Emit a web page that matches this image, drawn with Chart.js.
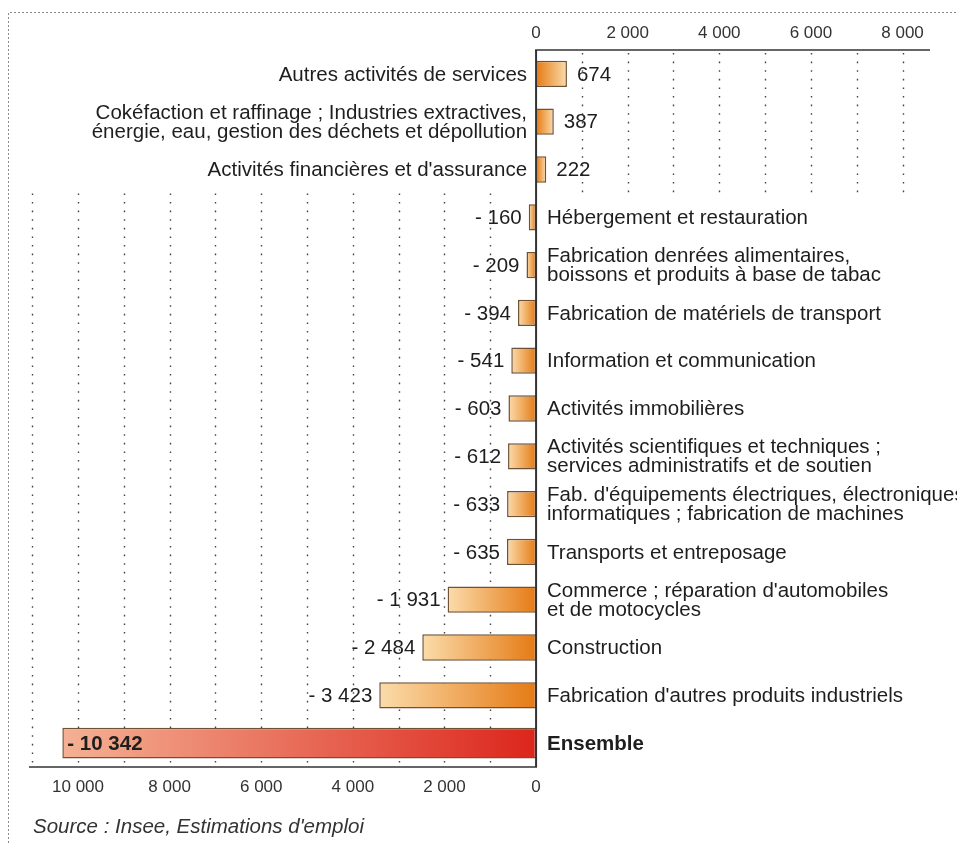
<!DOCTYPE html>
<html lang="fr">
<head>
<meta charset="utf-8">
<title>Emploi par secteur</title>
<script src="https://cdn.jsdelivr.net/npm/chart.js@4.4.1/dist/chart.umd.min.js"></script>
<style>
  html, body { margin: 0; padding: 0; background: #fff; }
  #wrap { position: relative; width: 957px; height: 843px; }
</style>
</head>
<body>
<div id="wrap"><canvas id="chart" width="957" height="843"></canvas></div>
<script>
// Variation de l'emploi par secteur (Insee, estimations d'emploi)
const categories = [
  ['Autres activités de services'],
  ['Cokéfaction et raffinage ; Industries extractives,', 'énergie, eau, gestion des déchets et dépollution'],
  ['Activités financières et d\'assurance'],
  ['Hébergement et restauration'],
  ['Fabrication denrées alimentaires,', 'boissons et produits à base de tabac'],
  ['Fabrication de matériels de transport'],
  ['Information et communication'],
  ['Activités immobilières'],
  ['Activités scientifiques et techniques ;', 'services administratifs et de soutien'],
  ['Fab. d\'équipements électriques, électroniques,', 'informatiques ; fabrication de machines'],
  ['Transports et entreposage'],
  ['Commerce ; réparation d\'automobiles', 'et de motocycles'],
  ['Construction'],
  ['Fabrication d\'autres produits industriels'],
  ['Ensemble']
];
const sectorValues = [674, 387, 222, -160, -209, -394, -541, -603, -612, -633, -635, -1931, -2484, -3423, null];
const totalValues = [null, null, null, null, null, null, null, null, null, null, null, null, null, null, -10342];
const topTicks = [0, 2000, 4000, 6000, 8000];
const bottomTicks = [-10000, -8000, -6000, -4000, -2000, 0];
const posGrid = [1000, 2000, 3000, 4000, 5000, 6000, 7000, 8000];
const negGrid = [-1000, -2000, -3000, -4000, -5000, -6000, -7000, -8000, -9000, -10000, -11000];

const X_MIN = -11070, X_MAX = 8600;
const FONT = '"Liberation Sans", Arial, Helvetica, sans-serif';
const TXT = '#1e1e1e';

function fmt(v) {
  const s = Math.abs(v).toString().replace(/\B(?=(\d{3})+(?!\d))/g, ' ');
  return v < 0 ? '- ' + s : s;
}

function barFill(dark, light) {
  return function (ctx) {
    const chart = ctx.chart;
    if (!chart.chartArea || ctx.raw == null) return dark;
    const xs = chart.scales.x;
    const x0 = xs.getPixelForValue(0), x1 = xs.getPixelForValue(ctx.raw);
    const g = chart.ctx.createLinearGradient(x0, 0, x1, 0);
    g.addColorStop(0, dark);
    g.addColorStop(1, light);
    return g;
  };
}

// fond : cadre pointillé, grilles, axes
const backdrop = {
  id: 'backdrop',
  beforeDatasetsDraw(chart) {
    const { ctx, chartArea: a, scales: { x, y } } = chart;
    ctx.save();
    // cadre
    ctx.strokeStyle = '#8a8a8a';
    ctx.lineWidth = 1;
    ctx.setLineDash([2, 2]);
    ctx.beginPath();
    ctx.moveTo(8.5, 843); ctx.lineTo(8.5, 12.5); ctx.lineTo(957, 12.5);
    ctx.stroke();
    // grilles
    const split = y.getPixelForValue(2.5);
    ctx.strokeStyle = '#444';
    ctx.lineWidth = 1.4;
    ctx.setLineDash([1.6, 7]);
    posGrid.forEach(v => {
      const px = Math.round(x.getPixelForValue(v)) + 0.5;
      ctx.beginPath(); ctx.moveTo(px, a.top + 3); ctx.lineTo(px, split); ctx.stroke();
    });
    negGrid.forEach(v => {
      const px = Math.round(x.getPixelForValue(v)) + 0.5;
      ctx.beginPath(); ctx.moveTo(px, split); ctx.lineTo(px, a.bottom - 2); ctx.stroke();
    });
    ctx.restore();
  },
  afterDatasetsDraw(chart) {
    const { ctx, chartArea: a, scales: { x } } = chart;
    const x0 = x.getPixelForValue(0);
    ctx.save();
    ctx.setLineDash([]);
    ctx.strokeStyle = '#666';
    ctx.lineWidth = 2;
    ctx.beginPath(); ctx.moveTo(x0 - 1, a.top); ctx.lineTo(a.right, a.top); ctx.stroke();
    ctx.beginPath(); ctx.moveTo(a.left, a.bottom); ctx.lineTo(x0 + 1, a.bottom); ctx.stroke();
    ctx.strokeStyle = '#333';
    ctx.beginPath(); ctx.moveTo(x0, a.top); ctx.lineTo(x0, a.bottom); ctx.stroke();
    ctx.restore();
  }
};

// étiquettes : secteurs et valeurs
const labels = {
  id: 'labels',
  afterDraw(chart) {
    const { ctx, scales: { x } } = chart;
    const x0 = x.getPixelForValue(0);
    ctx.save();
    ctx.fillStyle = TXT;
    ctx.textBaseline = 'middle';
    const lh = 19;
    chart.data.datasets.forEach((ds, di) => {
      const meta = chart.getDatasetMeta(di);
      meta.data.forEach((bar, i) => {
        const v = ds.data[i];
        if (v == null) return;
        const isTotal = di === 1;
        const lines = categories[i];
        const cy = bar.y;
        ctx.font = (isTotal ? 'bold ' : '') + '20.5px ' + FONT;
        // catégorie
        ctx.textAlign = v >= 0 ? 'right' : 'left';
        const cx = v >= 0 ? x0 - 9 : x0 + 11;
        lines.forEach((t, k) => {
          ctx.fillText(t, cx, cy + (k - (lines.length - 1) / 2) * lh + 1);
        });
        // valeur
        if (isTotal) {
          ctx.textAlign = 'left';
          ctx.fillText(fmt(v), bar.x + 5, cy + 1);
        } else if (v >= 0) {
          ctx.textAlign = 'left';
          ctx.fillText(fmt(v), bar.x + 10, cy + 1);
        } else {
          ctx.textAlign = 'right';
          ctx.fillText(fmt(v), bar.x - 7, cy + 1);
        }
      });
    });
    // source
    ctx.font = 'italic 20.5px ' + FONT;
    ctx.textAlign = 'left';
    ctx.fillStyle = '#333';
    ctx.fillText('Source : Insee, Estimations d\'emploi', 33, 827);
    ctx.restore();
  }
};

new Chart(document.getElementById('chart'), {
  type: 'bar',
  data: {
    labels: categories.map(c => c.join(' ')),
    datasets: [
      {
        data: sectorValues,
        backgroundColor: barFill('#e57a14', '#fbdcab'),
        borderColor: '#6e5238',
        borderWidth: 1.5,
        borderSkipped: false,
        barPercentage: 0.55,
        categoryPercentage: 1,
        grouped: false
      },
      {
        data: totalValues,
        backgroundColor: barFill('#dc261c', '#f4b194'),
        borderColor: '#6e5238',
        borderWidth: 1.5,
        borderSkipped: false,
        barPercentage: 0.64,
        categoryPercentage: 1,
        grouped: false
      }
    ]
  },
  options: {
    indexAxis: 'y',
    responsive: false,
    animation: false,
    events: [],
    layout: { padding: { top: 12, bottom: 36, left: 29, right: 27 } },
    plugins: { legend: { display: false }, tooltip: { enabled: false } },
    scales: {
      y: { display: false },
      x: {
        position: 'bottom',
        min: X_MIN, max: X_MAX,
        grid: { display: false, drawTicks: false },
        border: { display: false },
        afterBuildTicks: s => { s.ticks = bottomTicks.map(v => ({ value: v })); },
        afterFit: s => { s.height = 40; },
        ticks: {
          padding: 10,
          maxRotation: 0,
          autoSkip: false,
          color: '#333',
          font: { family: FONT, size: 17 },
          callback: v => fmt(Math.abs(v))
        }
      },
      x2: {
        position: 'top',
        min: X_MIN, max: X_MAX,
        grid: { display: false, drawTicks: false },
        border: { display: false },
        afterBuildTicks: s => { s.ticks = topTicks.map(v => ({ value: v })); },
        afterFit: s => { s.height = 38; },
        ticks: {
          padding: 6,
          maxRotation: 0,
          autoSkip: false,
          color: '#333',
          font: { family: FONT, size: 17 },
          callback: v => fmt(v)
        }
      }
    }
  },
  plugins: [backdrop, labels]
});
</script>
</body>
</html>
